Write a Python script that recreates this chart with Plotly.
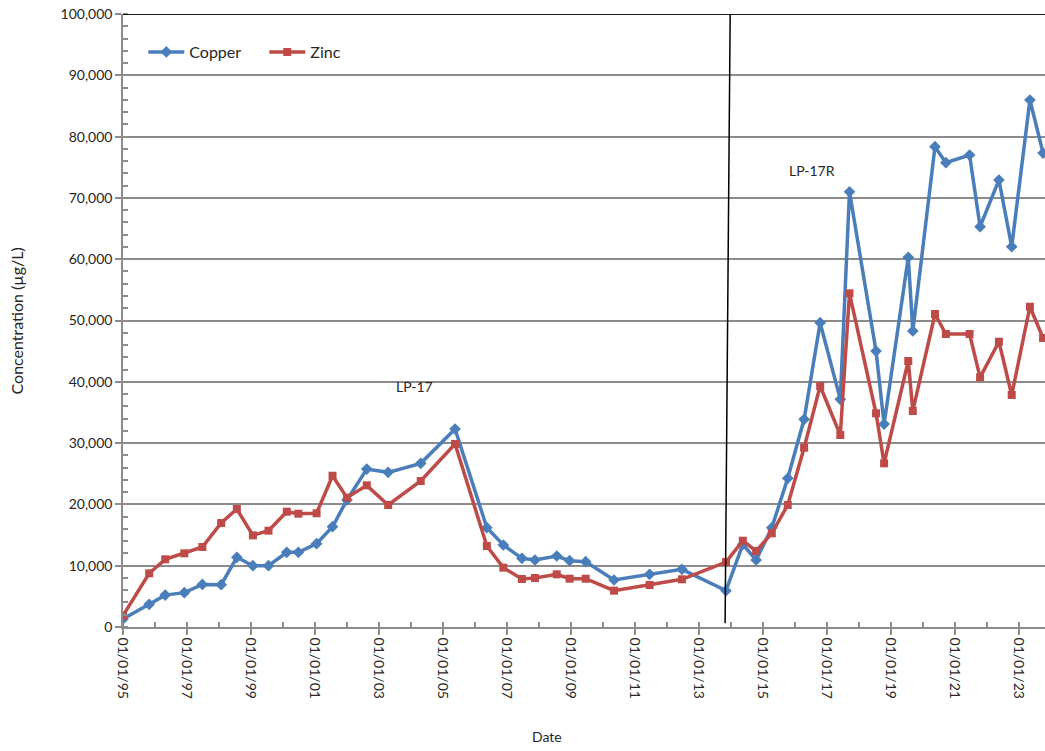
import plotly.graph_objects as go

dates = ["1995-01-01", "1995-10-27", "1996-04-27", "1996-12-01", "1997-06-25", "1998-01-26",
         "1998-07-24", "1999-01-23", "1999-07-20", "2000-02-14", "2000-06-25", "2001-01-19",
         "2001-07-20", "2002-01-01", "2002-08-15", "2003-04-16", "2004-04-22", "2005-05-19",
         "2006-05-17", "2006-11-21", "2007-06-21", "2007-11-17", "2008-07-23", "2008-12-17",
         "2009-06-18", "2010-05-08", "2011-06-18", "2012-06-21", "2013-11-06", "2014-05-17",
         "2014-10-16", "2015-04-13", "2015-10-12", "2016-04-16", "2016-10-16", "2017-06-03",
         "2017-09-16", "2018-07-16", "2018-10-16", "2019-07-19", "2019-09-09", "2020-05-19",
         "2020-09-20", "2021-06-18", "2021-10-16", "2022-05-19", "2022-10-12", "2023-05-08",
         "2023-10-05"]

copper = [1300, 3700, 5200, 5600, 6950, 6900, 11370, 10000, 10000, 12180, 12180, 13590,
          16360, 20720, 25770, 25230, 26700, 32300, 16200, 13380, 11200, 10930, 11580, 10820,
          10650, 7670, 8590, 9410, 5930, 13480, 10930, 16200, 24260, 33880, 49640, 37140,
          71000, 45020, 33110, 60300, 48290, 78350, 75740, 77000, 65300, 72920, 62040, 85970,
          77320]

zinc = [1850, 8760, 11040, 12020, 13050, 16960, 19250, 14950, 15710, 18810, 18480, 18550,
        24680, 21100, 23110, 19900, 23820, 29850, 13210, 9680, 7830, 7990, 8590, 7880,
        7880, 5930, 6850, 7780, 10600, 14080, 12400, 15280, 19900, 29250, 39310, 31320,
        54430, 34860, 26700, 43390, 35240, 51060, 47800, 47800, 40730, 46540, 37850, 52250,
        47150]

FONT = "Lato, 'Open Sans', sans-serif"
GRID = "#8c8c8c"
TXT = "#262626"

fig = go.Figure()
fig.add_trace(go.Scatter(
    x=dates, y=copper, name="Copper", mode="lines+markers",
    line=dict(color="#4A7EBB", width=3.5),
    marker=dict(symbol="diamond", size=9, color="#4A7EBB"),
    cliponaxis=True))
fig.add_trace(go.Scatter(
    x=dates, y=zinc, name="Zinc", mode="lines+markers",
    line=dict(color="#BE4B48", width=3.5),
    marker=dict(symbol="square", size=8, color="#BE4B48"),
    cliponaxis=True))

fig.update_layout(
    width=1045, height=751,
    margin=dict(l=123, r=0, t=14, b=124, autoexpand=False),
    paper_bgcolor="white", plot_bgcolor="white",
    font=dict(family=FONT, size=13, color=TXT),
    showlegend=True,
    legend=dict(orientation="h", x=0.022, y=0.938, xanchor="left", yanchor="middle",
                bgcolor="rgba(0,0,0,0)", font=dict(size=16, color=TXT),
                itemwidth=36, entrywidth=70, tracegroupgap=0),
    xaxis=dict(
        type="date", range=["1995-01-01", "2023-10-27"], automargin=False,
        tick0="1995-01-01", dtick="M24", tickformat="%m/%d/%y",
        tickangle=90, tickfont=dict(size=14, color=TXT),
        showgrid=False, zeroline=False,
        showline=True, linecolor=GRID, linewidth=1.5,
        ticks="outside", ticklen=6, tickcolor=GRID, tickwidth=1.5,
        minor=dict(dtick="M12", tick0="1995-01-01", ticks="inside", ticklen=5,
                   tickcolor=GRID, tickwidth=1.5, showgrid=False),
    ),
    yaxis=dict(
        range=[0, 100000], dtick=10000, tickformat=",", automargin=False,
        tickfont=dict(size=14, color=TXT), ticklabeloverflow="allow",
        showgrid=True, gridcolor=GRID, gridwidth=1.5, zeroline=False,
        showline=True, linecolor=GRID, linewidth=1.5,
        ticks="outside", ticklen=6, tickcolor=GRID, tickwidth=1.5,
        minor=dict(dtick=2000, ticks="inside", ticklen=5, tickcolor=GRID,
                   tickwidth=1.5, showgrid=False),
    ),
    shapes=[
        dict(type="line", xref="paper", yref="y", x0=0, x1=1, y0=100000, y1=100000,
             line=dict(color="#1a1a1a", width=2)),
        dict(type="line", xref="x", yref="y", x0="2013-12-24", y0=100500,
             x1="2013-10-27", y1=600, line=dict(color="black", width=1.5)),
    ],
    annotations=[
        dict(text="LP-17", x="2004-02-15", y=39300, xref="x", yref="y",
             showarrow=False, font=dict(size=14, color=TXT)),
        dict(text="LP-17R", x="2016-07-20", y=74400, xref="x", yref="y",
             showarrow=False, font=dict(size=14, color=TXT)),
        dict(text="Date", xref="paper", yref="paper", x=0.460, y=-0.1794,
             xanchor="center", yanchor="middle", showarrow=False,
             font=dict(size=14, color=TXT)),
        dict(text="Concentration (µg/L)", xref="paper", yref="paper",
             x=-0.115, y=0.5, xanchor="center", yanchor="middle", textangle=-90,
             showarrow=False, font=dict(size=16, color=TXT)),
    ],
)

fig.write_html("out.html", config={"displayModeBar": False},
               post_script="document.body.style.margin='0';document.body.style.overflow='hidden';")
